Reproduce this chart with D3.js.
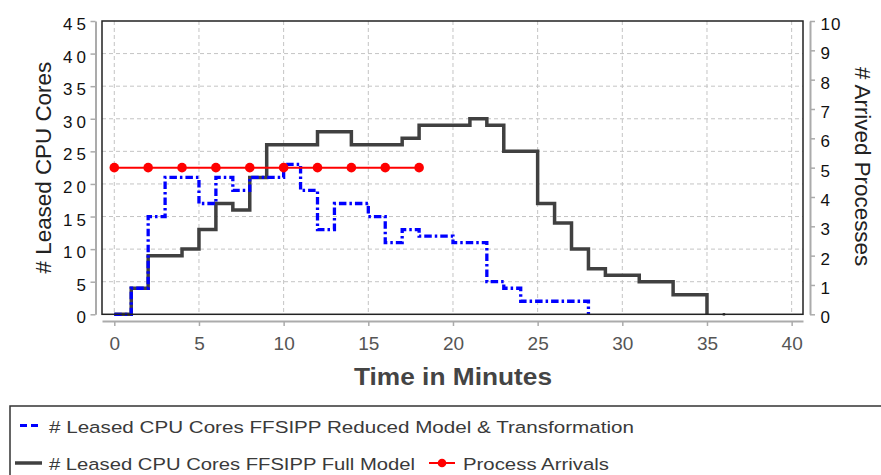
<!DOCTYPE html>
<html>
<head>
<meta charset="utf-8">
<script src="https://cdn.jsdelivr.net/npm/d3@7"></script>
<style>
  body { margin: 0; background: #fff; }
  svg { display: block; font-family: "Liberation Sans", Arial, sans-serif; }
</style>
</head>
<body>
<svg id="chart" width="881" height="475"></svg>
<script>
// Leased CPU cores per minute, FFSIPP reduced model & transformation
const reducedMinutes = [0, 1, 2, 3, 4, 5, 6, 7, 8, 9, 10, 11, 12, 13, 14, 15, 16, 17, 18, 19, 20, 21, 22, 23, 24, 25, 26, 27, 28];
const reducedCores   = [0, 4, 15, 21, 21, 17, 21, 19, 21, 21, 23, 19, 13, 17, 17, 15, 11, 13, 12, 12, 11, 11, 5, 4, 2, 2, 2, 2, 0];

// Leased CPU cores per minute, FFSIPP full model
const fullMinutes = [0, 1, 2, 3, 4, 5, 6, 7, 8, 9, 10, 11, 12, 13, 14, 15, 16, 17, 18, 19, 20, 21, 22, 23, 24, 25, 26, 27, 28, 29, 30, 31, 32, 33, 34, 35, 36];
const fullCores   = [0, 4, 9, 9, 10, 13, 17, 16, 21, 26, 26, 26, 28, 28, 26, 26, 26, 27, 29, 29, 29, 30, 29, 25, 25, 17, 14, 10, 7, 6, 6, 5, 5, 3, 3, 0, 0];

// Process arrivals (right axis)
const arrivalMinutes = [0, 2, 4, 6, 8, 10, 12, 14, 16, 18];
const arrivalCounts  = [5, 5, 5, 5, 5, 5, 5, 5, 5, 5];

// Tick labels
const timeTicks = [0, 5, 10, 15, 20, 25, 30, 35, 40];
const coreTicks = [0, 5, 10, 15, 20, 25, 30, 35, 40, 45];
const processTicks = [0, 1, 2, 3, 4, 5, 6, 7, 8, 9, 10];

const legendLabels = [
  "# Leased CPU Cores FFSIPP Reduced Model & Transformation",
  "# Leased CPU Cores FFSIPP Full Model",
  "Process Arrivals"
];

const svg = d3.select("#chart");
const plot = { left: 102, right: 803, top: 21, bottom: 314.3 };

const x = d3.scaleLinear().domain([-0.726, 40.67]).range([plot.left, plot.right]);
const yCores = d3.scaleLinear().domain([0, 45]).range([plot.bottom, plot.top]);
const yProc = d3.scaleLinear().domain([0, 10]).range([plot.bottom, plot.top]);

// Grid
const grid = svg.append("g").attr("stroke", "#c4c4c4").attr("stroke-width", 1).attr("stroke-dasharray", "4,3");
grid.selectAll("line.v").data(timeTicks).join("line")
  .attr("x1", d => x(d)).attr("x2", d => x(d))
  .attr("y1", plot.top).attr("y2", plot.bottom);
grid.selectAll("line.h").data(coreTicks.filter(d => d > 0 && d < 45)).join("line")
  .attr("x1", plot.left).attr("x2", plot.right)
  .attr("y1", d => yCores(d)).attr("y2", d => yCores(d));

// Axes
function styleAxis(g) {
  g.select(".domain").attr("stroke", "#ababab").attr("stroke-width", 2);
  g.selectAll(".tick line").attr("stroke", "#ababab").attr("stroke-width", 1.5);
}

const leftAxis = svg.append("g")
  .attr("transform", "translate(95.5,0)")
  .call(d3.axisLeft(yCores).tickValues(coreTicks).tickSize(5).tickSizeOuter(0).tickPadding(4.5))
  .call(styleAxis);
leftAxis.selectAll(".tick text")
  .attr("font-size", 17).attr("fill", "#111").attr("dy", "0.5em")
  .attr("font-family", "Liberation Sans, Arial, sans-serif")
  .each(function(d) { if (String(d).length > 1) d3.select(this).attr("textLength", 23); });

const rightAxis = svg.append("g")
  .attr("transform", "translate(810,0)")
  .call(d3.axisRight(yProc).tickValues(processTicks).tickSize(5).tickSizeOuter(0).tickPadding(5.5))
  .call(styleAxis);
rightAxis.selectAll(".tick text")
  .attr("font-size", 17).attr("fill", "#111").attr("dy", "0.5em")
  .attr("font-family", "Liberation Sans, Arial, sans-serif")
  .each(function(d) { if (String(d).length > 1) d3.select(this).attr("textLength", 20); });

const bottomAxis = svg.append("g")
  .attr("transform", "translate(0,321)")
  .call(d3.axisBottom(x).tickValues(timeTicks).tickSize(5).tickSizeOuter(0).tickPadding(10.5))
  .call(styleAxis);
bottomAxis.selectAll(".tick text")
  .attr("font-size", 19).attr("fill", "#555")
  .attr("font-family", "Liberation Sans, Arial, sans-serif");

// Axis titles
svg.append("text")
  .attr("transform", `translate(51,${(plot.top + plot.bottom) / 2}) rotate(-90)`)
  .attr("text-anchor", "middle").attr("font-size", 22.4).attr("fill", "#222")
  .text("# Leased CPU Cores");
svg.append("text")
  .attr("transform", `translate(855,${(plot.top + plot.bottom) / 2 - 1}) rotate(90)`)
  .attr("text-anchor", "middle").attr("font-size", 22.4).attr("fill", "#222")
  .text("# Arrived Processes");
svg.append("text")
  .attr("x", 453).attr("y", 385)
  .attr("text-anchor", "middle").attr("font-size", 23).attr("font-weight", "bold").attr("fill", "#444")
  .attr("textLength", 198).attr("lengthAdjust", "spacingAndGlyphs")
  .text("Time in Minutes");

// Series
const fullData = fullMinutes.map((t, i) => ({ t, v: fullCores[i] }));
const reducedData = reducedMinutes.map((t, i) => ({ t, v: reducedCores[i] }));
const arrivalData = arrivalMinutes.map((t, i) => ({ t, v: arrivalCounts[i] }));

const coreLine = d3.line().x(d => x(d.t)).y(d => yCores(d.v)).curve(d3.curveStepAfter);
const procLine = d3.line().x(d => x(d.t)).y(d => yProc(d.v));

const series = svg.append("g");

// Full model: minute 35-36 has no recorded lease, the last sample is shown on its own
series.append("path")
  .attr("d", coreLine(fullData.slice(0, -1)))
  .attr("fill", "none").attr("stroke", "#404040").attr("stroke-width", 3.5)
  .attr("stroke-linejoin", "miter");
series.append("path")
  .attr("d", coreLine(fullData.slice(-1)))
  .attr("fill", "none").attr("stroke", "#404040").attr("stroke-width", 2.5)
  .attr("stroke-linecap", "square");

series.append("path")
  .attr("d", coreLine(reducedData))
  .attr("fill", "none").attr("stroke", "#0000ff").attr("stroke-width", 3.3)
  .attr("stroke-dasharray", "7.5,3,2.5,3");

series.append("path")
  .attr("d", procLine(arrivalData))
  .attr("fill", "none").attr("stroke", "#ff0000").attr("stroke-width", 2);
series.selectAll("circle").data(arrivalData).join("circle")
  .attr("cx", d => x(d.t)).attr("cy", d => yProc(d.v)).attr("r", 4.8)
  .attr("fill", "#ff0000");

// Plot frame
svg.append("rect")
  .attr("x", plot.left).attr("y", plot.top)
  .attr("width", plot.right - plot.left).attr("height", plot.bottom - plot.top)
  .attr("fill", "none").attr("stroke", "#222").attr("stroke-width", 1.5);

// Legend
const legend = svg.append("g");
legend.append("rect")
  .attr("x", 10).attr("y", 406).attr("width", 900).attr("height", 120)
  .attr("fill", "none").attr("stroke", "#333").attr("stroke-width", 1.5);

legend.append("line")
  .attr("x1", 20).attr("x2", 39).attr("y1", 425.5).attr("y2", 425.5)
  .attr("stroke", "#0000ff").attr("stroke-width", 3).attr("stroke-dasharray", "7,4");
legend.append("text")
  .attr("x", 49).attr("y", 433).attr("font-size", 17.2).attr("fill", "#3a3a3a")
  .attr("textLength", 585).attr("lengthAdjust", "spacingAndGlyphs")
  .text(legendLabels[0]);

legend.append("line")
  .attr("x1", 15).attr("x2", 42).attr("y1", 463).attr("y2", 463)
  .attr("stroke", "#404040").attr("stroke-width", 3.5);
legend.append("text")
  .attr("x", 49).attr("y", 470).attr("font-size", 17.2).attr("fill", "#3a3a3a")
  .attr("textLength", 366).attr("lengthAdjust", "spacingAndGlyphs")
  .text(legendLabels[1]);

legend.append("line")
  .attr("x1", 429).attr("x2", 455).attr("y1", 463).attr("y2", 463)
  .attr("stroke", "#ff0000").attr("stroke-width", 2);
legend.append("circle")
  .attr("cx", 442).attr("cy", 463).attr("r", 4.3).attr("fill", "#ff0000");
legend.append("text")
  .attr("x", 463).attr("y", 470).attr("font-size", 17.2).attr("fill", "#3a3a3a")
  .attr("textLength", 146).attr("lengthAdjust", "spacingAndGlyphs")
  .text(legendLabels[2]);
</script>
</body>
</html>
